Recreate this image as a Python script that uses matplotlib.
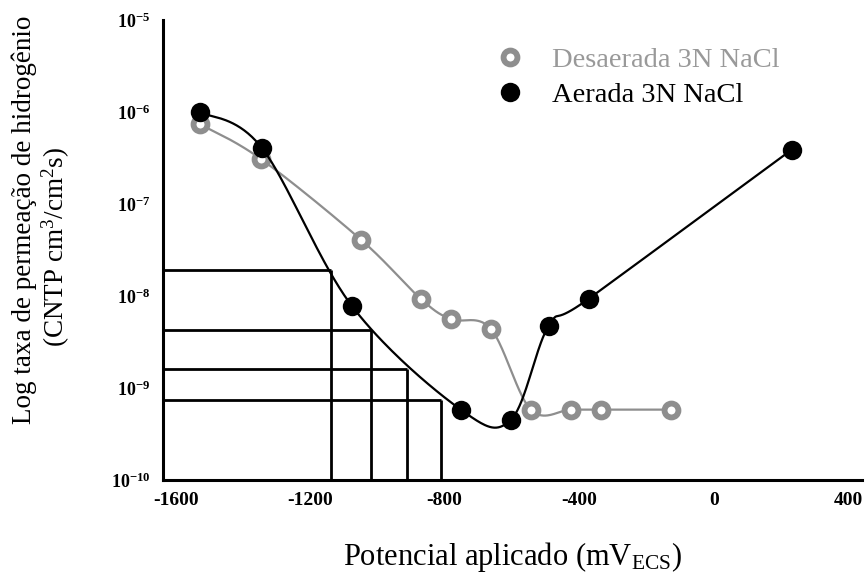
import numpy as np
import matplotlib
matplotlib.use("Agg")
import matplotlib.pyplot as plt
from matplotlib.lines import Line2D

# data (potential in mV, rate on log scale)
aerada_x = [-1528, -1344, -1076, -752, -603, -491, -372, 232]
aerada_y = [1.0e-6, 4.1e-7, 7.8e-9, 5.8e-10, 4.5e-10, 4.7e-9, 9.3e-9, 3.9e-7]

desaerada_x = [-1528, -1347, -1049, -871, -782, -663, -544, -425, -336, -128]
desaerada_y = [7.4e-7, 3.1e-7, 4.1e-8, 9.3e-9, 5.6e-9, 4.4e-9, 5.8e-10, 5.8e-10, 5.8e-10, 5.8e-10]

# reading lines down to the potential axis
ref_x = [-1139, -1020, -911, -812]
ref_y = [1.9e-8, 4.3e-9, 1.6e-9, 7.4e-10]

x_ticks = [-1600, -1200, -800, -400, 0, 400]
y_ticks = [1e-10, 1e-9, 1e-8, 1e-7, 1e-6, 1e-5]
y_ticklabels = [r"$\mathbf{10^{-10}}$", r"$\mathbf{10^{-9}}$", r"$\mathbf{10^{-8}}$",
                r"$\mathbf{10^{-7}}$", r"$\mathbf{10^{-6}}$", r"$\mathbf{10^{-5}}$"]

plt.rcParams['font.family'] = ['Liberation Serif', 'DejaVu Serif']
plt.rcParams['mathtext.fontset'] = 'custom'
plt.rcParams['mathtext.rm'] = 'Liberation Serif'
plt.rcParams['mathtext.it'] = 'Liberation Serif'
plt.rcParams['mathtext.bf'] = 'Liberation Serif:bold'


def smooth(xs, ys, n=40):
    """Excel-like smoothed line: Catmull-Rom Bezier in (x, log y)."""
    p = np.column_stack([np.asarray(xs, float), np.log10(ys)])
    pts = np.vstack([p[0], p, p[-1]])
    t = np.linspace(0, 1, n)[:, None]
    out = []
    for i in range(1, len(pts) - 2):
        p0, p1, p2, p3 = pts[i - 1], pts[i], pts[i + 1], pts[i + 2]
        c1 = p1 + (p2 - p0) / 6
        c2 = p2 - (p3 - p1) / 6
        seg = ((1 - t) ** 3) * p1 + 3 * ((1 - t) ** 2) * t * c1 \
            + 3 * (1 - t) * t ** 2 * c2 + t ** 3 * p2
        out.append(seg)
    out = np.vstack(out)
    return out[:, 0], 10 ** out[:, 1]


fig = plt.figure(figsize=(8.66, 5.76), dpi=100)
ax = fig.add_axes([0.188, 0.167, 0.807, 0.798])
ax.set_yscale('log')
ax.set_xlim(-1638, 440)
ax.set_ylim(1e-10, 1e-5)

x0 = ax.get_xlim()[0]
y0 = ax.get_ylim()[0]
for rx, ry in zip(ref_x, ref_y):
    ax.plot([x0, rx], [ry, ry], color='black', lw=2.0, solid_capstyle='butt', zorder=1)
    ax.plot([rx, rx], [y0, ry], color='black', lw=2.0, solid_capstyle='butt', zorder=1)

gray = '#8e8e8e'
sx, sy = smooth(desaerada_x, desaerada_y)
ax.plot(sx, sy, color=gray, lw=1.6, zorder=2)
ax.plot(desaerada_x, desaerada_y, ls='none', marker='o', ms=10, mew=4.2,
        mfc='white', mec=gray, zorder=3)

sx, sy = smooth(aerada_x, aerada_y)
ax.plot(sx, sy, color='black', lw=1.6, zorder=4)
ax.plot(aerada_x, aerada_y, ls='none', marker='o', ms=14, mew=0,
        mfc='black', zorder=5)

ax.set_xticks(x_ticks)
ax.set_xticklabels([str(v) for v in x_ticks], fontsize=14, fontweight='bold')
ax.set_yticks(y_ticks)
ax.set_yticklabels(y_ticklabels, fontsize=13)
ax.yaxis.set_minor_locator(matplotlib.ticker.NullLocator())
ax.tick_params(axis='both', length=0)
ax.tick_params(axis='x', pad=9)
ax.tick_params(axis='y', pad=9)

for s in ['top', 'right']:
    ax.spines[s].set_visible(False)
for s in ['left', 'bottom']:
    ax.spines[s].set_linewidth(2.2)

ax.set_xlabel(r"Potencial aplicado (mV$_{\mathrm{ECS}}$)", fontsize=22, labelpad=22)
fig.text(0.028, 1 - 220 / 576, "Log taxa de permeação de hidrogênio",
         rotation=90, fontsize=19.5, ha='center', va='center')
fig.text(0.064, 1 - 247 / 576, "(CNTP cm$^3$/cm$^2$s)",
         rotation=90, fontsize=19.5, ha='center', va='center')

handles = [
    Line2D([], [], ls='none', marker='o', ms=10, mew=4.2, mfc='white', mec=gray),
    Line2D([], [], ls='none', marker='o', ms=14, mew=0, mfc='black'),
]
leg = ax.legend(handles, ["Desaerada 3N NaCl", "Aerada 3N NaCl"],
                loc='upper left', bbox_to_anchor=(0.436, 0.997), frameon=False,
                fontsize=20.5, handletextpad=0.88, labelspacing=0.3, handlelength=1.2)
leg.get_texts()[0].set_color('#999999')
leg.get_texts()[1].set_color('black')

fig.savefig('out.png', dpi=100)
